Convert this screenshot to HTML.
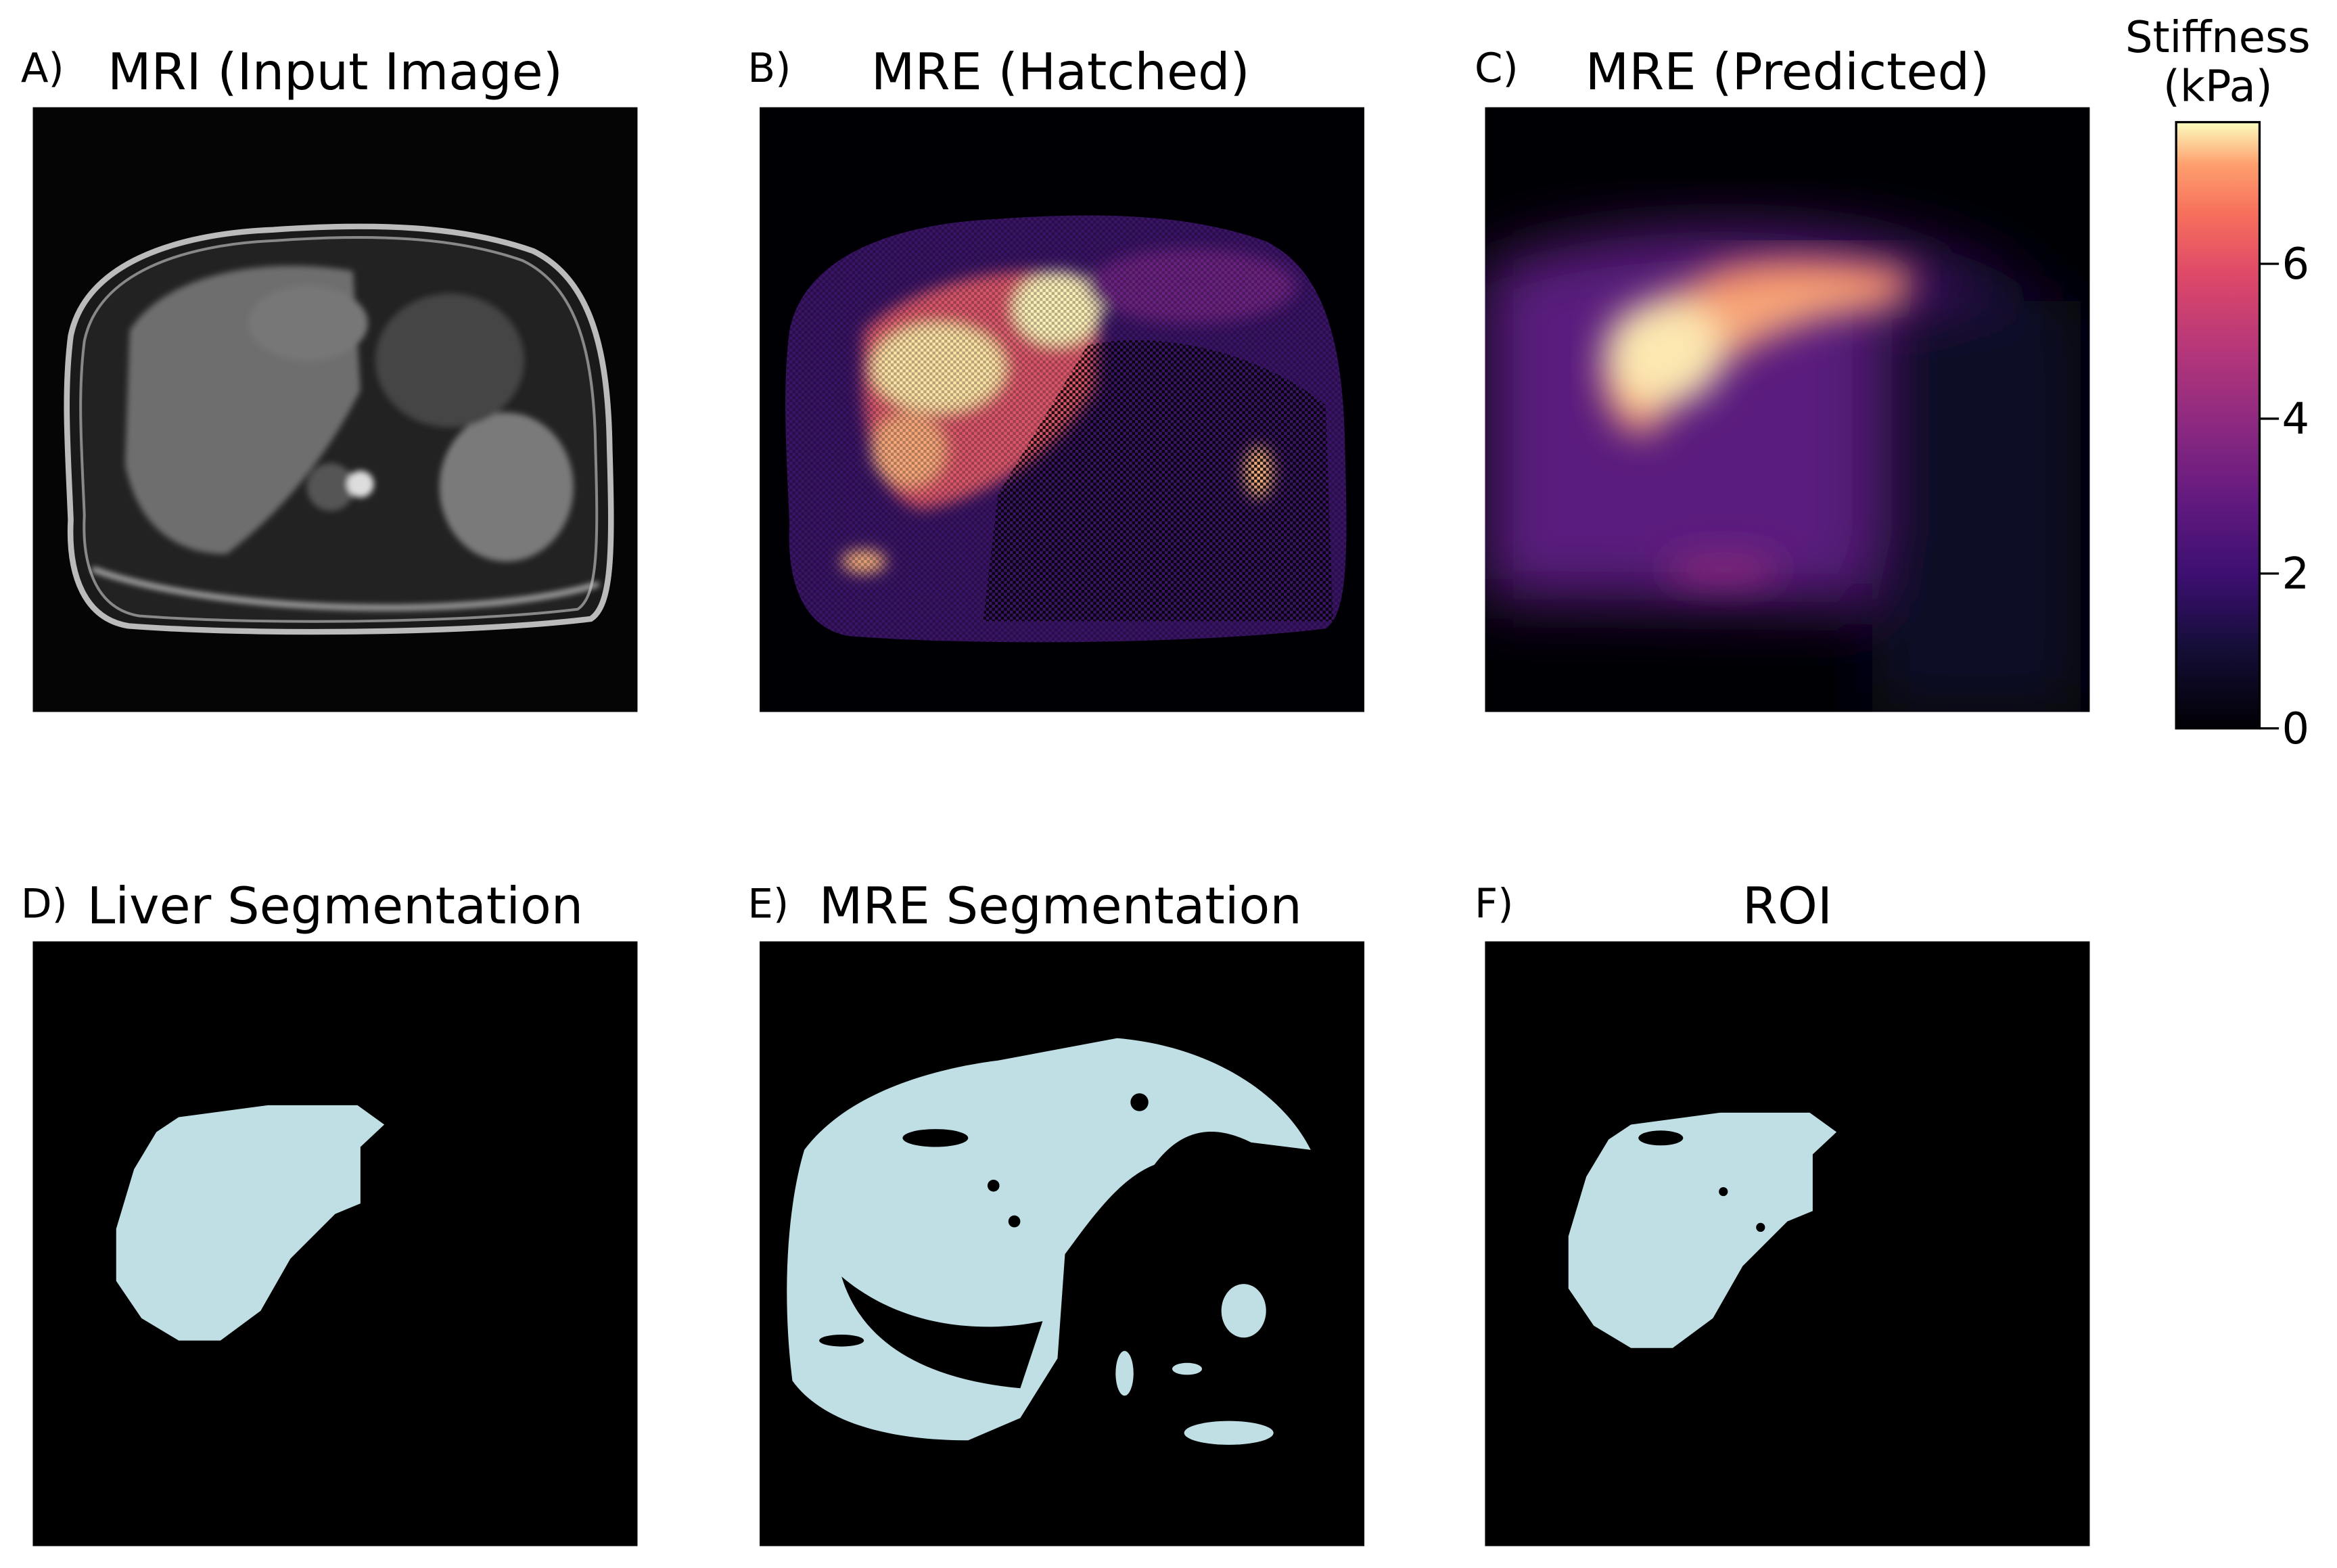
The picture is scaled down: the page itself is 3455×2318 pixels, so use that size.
<!DOCTYPE html>
<html><head><meta charset="utf-8">
<style>
html,body{margin:0;padding:0;background:#fff;}
svg{display:block;}
text{font-family:"DejaVu Sans","Liberation Sans",sans-serif;fill:#000;}
</style></head>
<body>
<svg width="3455" height="2318" viewBox="0 0 1569 1052.7" preserveAspectRatio="none" xmlns="http://www.w3.org/2000/svg">
<defs>
  <filter id="b2"><feGaussianBlur stdDeviation="2"/></filter>
  <filter id="b6"><feGaussianBlur stdDeviation="5"/></filter>
  <filter id="b14"><feGaussianBlur stdDeviation="12"/></filter>
  <filter id="b22"><feGaussianBlur stdDeviation="20"/></filter>
  <clipPath id="clipP"><rect width="406" height="406"/></clipPath>
  <pattern id="hatch" width="4" height="4" patternUnits="userSpaceOnUse">
    <rect width="2" height="2" fill="#000" opacity="0.8"/>
    <rect x="2" y="2" width="2" height="2" fill="#000" opacity="0.8"/>
  </pattern>
  <linearGradient id="magma" x1="0" y1="1" x2="0" y2="0">
    <stop offset="0" stop-color="#000004"/>
    <stop offset="0.13" stop-color="#140e36"/>
    <stop offset="0.25" stop-color="#3b0f70"/>
    <stop offset="0.38" stop-color="#641a80"/>
    <stop offset="0.5" stop-color="#8c2981"/>
    <stop offset="0.63" stop-color="#b73779"/>
    <stop offset="0.75" stop-color="#de4968"/>
    <stop offset="0.85" stop-color="#f7705c"/>
    <stop offset="0.93" stop-color="#fe9f6d"/>
    <stop offset="1" stop-color="#fcfdbf"/>
  </linearGradient>
  <path id="body" d="M20,150 C30,100 90,78 160,75 C230,70 290,72 340,90 C380,110 392,160 393,230 C395,300 395,340 380,350 C300,360 150,362 60,355 C30,350 18,320 20,280 C18,230 15,190 20,150 Z"/>
  <path id="liver" d="M98,118 L158,110 L218,110 L236,123 L220,138 L220,176 L203,183 L173,213 L153,248 L126,268 L98,268 L73,253 L56,228 L56,193 L68,153 L83,128 Z"/>
</defs>

<text x="14" y="55" font-size="27">A)</text>
<text x="225" y="60" font-size="34" text-anchor="middle">MRI (Input Image)</text>
<text x="502" y="55" font-size="27">B)</text>
<text x="712" y="60" font-size="34" text-anchor="middle">MRE (Hatched)</text>
<text x="990" y="55" font-size="27">C)</text>
<text x="1200" y="60" font-size="34" text-anchor="middle">MRE (Predicted)</text>

<text x="14" y="616" font-size="27">D)</text>
<text x="225" y="620" font-size="34" text-anchor="middle">Liver Segmentation</text>
<text x="502" y="616" font-size="27">E)</text>
<text x="712" y="620" font-size="34" text-anchor="middle">MRE Segmentation</text>
<text x="990" y="616" font-size="27">F)</text>
<text x="1200" y="620" font-size="34" text-anchor="middle">ROI</text>

<!-- A: MRI -->
<g transform="translate(22,72)" clip-path="url(#clipP)">
  <rect width="406" height="406" fill="#050505"/>
  <g transform="translate(203,220) scale(0.97,0.95) translate(-203,-220)">
    <use href="#body" fill="#1a1a1a" stroke="#bbb" stroke-width="4"/>
  </g>
  <use href="#body" fill="#222" stroke="#888" stroke-width="2" transform="translate(203,220) scale(0.92,0.9) translate(-203,-220)"/>
  <g filter="url(#b2)">
    <path d="M65,150 C90,110 160,100 215,110 L220,190 C200,230 170,270 130,300 C95,300 70,280 62,240 Z" fill="#6e6e6e"/>
    <ellipse cx="185" cy="145" rx="40" ry="25" fill="#777"/>
    <ellipse cx="318" cy="255" rx="45" ry="50" fill="#7a7a7a"/>
    <ellipse cx="280" cy="170" rx="50" ry="45" fill="#444"/>
    <ellipse cx="200" cy="255" rx="16" ry="16" fill="#555"/>
    <circle cx="220" cy="253" r="9" fill="#ddd"/>
    <path d="M40,310 C120,340 300,345 380,320" stroke="#ccc" stroke-width="3" fill="none"/>
  </g>
</g>

<!-- B: MRE hatched -->
<g transform="translate(510,72)" clip-path="url(#clipP)">
  <rect width="406" height="406" fill="#000004"/>
  <use href="#body" fill="#3a1466"/>
  <g filter="url(#b6)">
    <path d="M70,150 C110,110 200,100 230,120 L225,190 C200,230 160,260 110,270 C80,265 65,220 70,150 Z" fill="#d9566a"/>
    <ellipse cx="120" cy="175" rx="45" ry="30" fill="#fde3a5"/>
    <ellipse cx="200" cy="135" rx="30" ry="25" fill="#fcf0b8"/>
    <ellipse cx="100" cy="230" rx="25" ry="25" fill="#f6a87a"/>
    <ellipse cx="335" cy="245" rx="10" ry="18" fill="#f9b47f"/>
    <ellipse cx="70" cy="305" rx="15" ry="8" fill="#f7b07c"/>
    <ellipse cx="290" cy="120" rx="70" ry="25" fill="#6a2080"/>
  </g>
  <path d="M220,160 C260,150 330,160 380,200 L385,345 L150,345 L160,260 Z" fill="url(#hatch)"/>
  <use href="#body" fill="url(#hatch)" opacity="0.35"/>
</g>

<!-- C: MRE predicted -->
<g transform="translate(997,72)" clip-path="url(#clipP)">
  <rect width="406" height="406" fill="#000004"/>
  <g filter="url(#b22)">
    <path d="M0,110 C80,70 300,70 360,120 L380,220 L360,340 L0,330 Z" fill="#2a1150"/>
    <path d="M0,110 C80,70 280,80 300,120 L270,240 L250,330 L0,330 Z" fill="#5a1c7e"/>
    <path d="M260,130 L400,130 L400,406 L260,406 Z" fill="#0d0828"/>
  </g>
  <g filter="url(#b14)">
    <path d="M80,160 C110,110 200,100 280,120 L270,135 C200,140 150,170 110,220 C85,220 75,190 80,160 Z" fill="#f7a77a"/>
    <ellipse cx="120" cy="165" rx="40" ry="35" fill="#fce8b0"/>
    <path d="M150,120 C190,105 250,110 285,120" stroke="#f38a68" stroke-width="18" fill="none"/>
    <ellipse cx="160" cy="310" rx="40" ry="10" fill="#8b2a7e"/>
  </g>
</g>

<!-- D: Liver segmentation -->
<g transform="translate(22,632)">
  <rect width="406" height="406" fill="#000"/>
  <use href="#liver" fill="#bfdfe5"/>
</g>

<!-- E: MRE segmentation -->
<g transform="translate(510,632)">
  <rect width="406" height="406" fill="#000"/>
  <path d="M30,140 C60,100 120,85 160,80 L240,65 C300,70 350,100 370,140 L330,135 C300,120 280,130 265,150 C240,160 220,190 205,210 L200,280 L175,320 L140,335 C80,335 40,320 22,295 C15,240 18,180 30,140 Z" fill="#bfdfe5"/>
  <g fill="#000">
    <ellipse cx="118" cy="132" rx="22" ry="6"/>
    <ellipse cx="55" cy="268" rx="15" ry="4"/>
    <path d="M55,225 C90,255 140,265 190,255 L175,300 C120,295 70,275 55,225 Z"/>
    <circle cx="157" cy="164" r="4"/><circle cx="171" cy="188" r="4"/><circle cx="255" cy="108" r="6"/>
  </g>
  <g fill="#bfdfe5">
    <ellipse cx="325" cy="248" rx="15" ry="18"/>
    <ellipse cx="315" cy="330" rx="30" ry="8"/>
    <ellipse cx="245" cy="290" rx="6" ry="15"/>
    <ellipse cx="287" cy="287" rx="10" ry="4"/>
  </g>
</g>

<!-- F: ROI -->
<g transform="translate(997,632)">
  <rect width="406" height="406" fill="#000"/>
  <use href="#liver" fill="#bfdfe5" transform="translate(0,5)"/>
  <ellipse cx="118" cy="132" rx="15" ry="5" fill="#000"/>
  <circle cx="160" cy="168" r="3" fill="#000"/>
  <circle cx="185" cy="192" r="3" fill="#000"/>
</g>

<!-- Colorbar -->
<g id="cbar">
  <text x="1489" y="35" font-size="29" text-anchor="middle">Stiffness</text>
  <text x="1489" y="68" font-size="29" text-anchor="middle">(kPa)</text>
  <rect x="1461" y="82" width="56" height="407" fill="url(#magma)" stroke="#000" stroke-width="1.5"/>
</g>
<script>
const cbTicks = [0, 2, 4, 6];
const cbTickLabels = ["0", "2", "4", "6"];
const cbMax = 7.83;
(function(){
  const g = document.getElementById('cbar');
  const ns = 'http://www.w3.org/2000/svg';
  const y0 = 489, y1 = 82;
  const yScale = v => y0 - (v / cbMax) * (y0 - y1);
  cbTicks.forEach((t, i) => {
    const y = yScale(t);
    const l = document.createElementNS(ns, 'line');
    l.setAttribute('x1', 1517); l.setAttribute('x2', 1530);
    l.setAttribute('y1', y); l.setAttribute('y2', y);
    l.setAttribute('stroke', '#000'); l.setAttribute('stroke-width', '1.5');
    
    
    g.appendChild(l);
    const tx = document.createElementNS(ns, 'text');
    tx.setAttribute('x', 1532); tx.setAttribute('y', y + 10);
    tx.setAttribute('font-size', '29');
    tx.textContent = cbTickLabels[i];
    
    
    g.appendChild(tx);
  });
})();
</script>
</svg>
</body></html>
